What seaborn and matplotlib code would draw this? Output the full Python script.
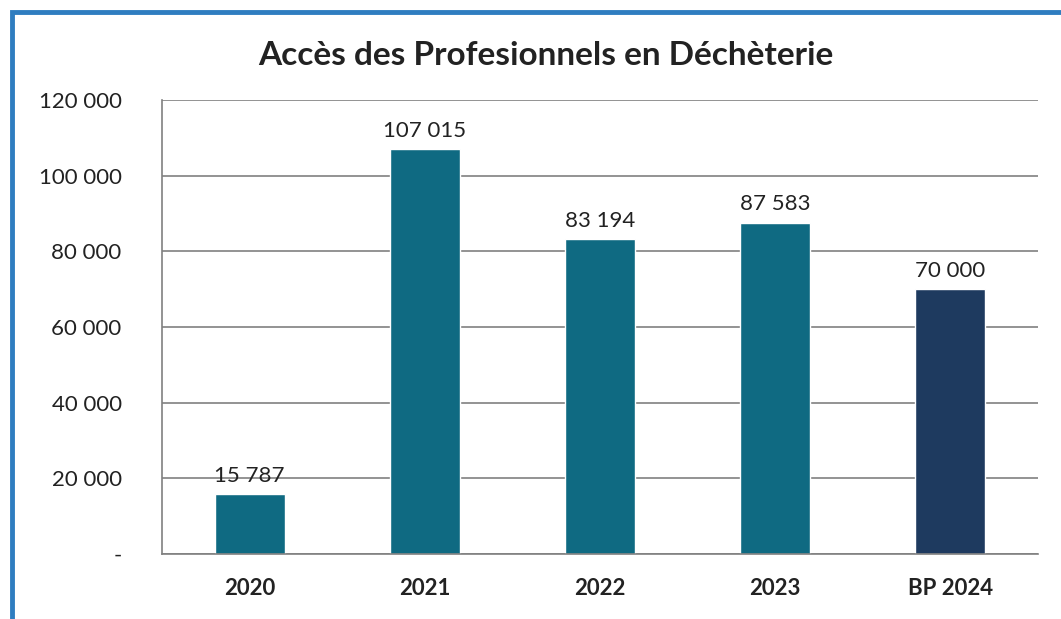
import pandas as pd
import seaborn as sns
import matplotlib.pyplot as plt
from matplotlib.patches import Rectangle
from matplotlib.ticker import FuncFormatter, FixedLocator

# Data
categories = ["2020", "2021", "2022", "2023", "BP 2024"]
values = [15787, 107015, 83194, 87583, 70000]
bar_colors = ["#0f6a82", "#0f6a82", "#0f6a82", "#0f6a82", "#1e3a5f"]

sns.set_style("white")
plt.rcParams['font.family'] = ['Lato', 'DejaVu Sans']

df = pd.DataFrame({"annee": categories, "acces": values})

fig = plt.figure(figsize=(10.61, 6.19), dpi=100)
ax = fig.add_axes([0.1527, 0.105, 0.8255, 0.7335])

sns.barplot(data=df, x="annee", y="acces", hue="annee", palette=bar_colors,
            width=0.4, legend=False, ax=ax, saturation=1)


def fr_fmt(v, pos=None):
    if v == 0:
        return "-"
    return f"{v:,.0f}".replace(",", " ")


# value labels above bars
for i, v in enumerate(values):
    ax.annotate(fr_fmt(v), (i, v), xytext=(0, 6), textcoords="offset points",
                ha="center", va="bottom", fontsize=16, color="#222222")

ax.set_ylim(0, 120000)
ax.set_xlim(-0.5, len(categories) - 0.5)
ax.set_yticks(range(0, 120001, 20000))
ax.yaxis.set_major_formatter(FuncFormatter(fr_fmt))
ax.yaxis.grid(True, color="#808080", linewidth=1.2)
ax.set_axisbelow(True)

# tick marks between categories
ax.xaxis.set_minor_locator(FixedLocator([i - 0.5 for i in range(len(categories) + 1)]))
ax.tick_params(axis="x", which="major", length=0, pad=17, labelsize=16, labelcolor="#222222")
ax.tick_params(axis="x", which="minor", length=7, color="#808080", width=1.2)
ax.tick_params(axis="y", length=7, color="#808080", width=1.2, pad=22,
               labelsize=16, labelcolor="#222222")
for lab in ax.get_xticklabels():
    lab.set_fontweight("bold")

ax.set_xlabel("")
ax.set_ylabel("")
for side in ["top", "right"]:
    ax.spines[side].set_visible(False)
for side in ["left", "bottom"]:
    ax.spines[side].set_color("#808080")
    ax.spines[side].set_linewidth(1.2)

fig.text(0.514, 0.91, "Accès des Profesionnels en Déchèterie", ha="center", va="center",
         fontsize=24, fontweight="bold", color="#222222")

# blue frame of the scanned page
fig.patches.append(Rectangle((0.011, -0.1), 1.2, 1.08, transform=fig.transFigure,
                             fill=False, edgecolor="#2f7dc0", linewidth=3.5))

fig.savefig("out.png", dpi=100)
